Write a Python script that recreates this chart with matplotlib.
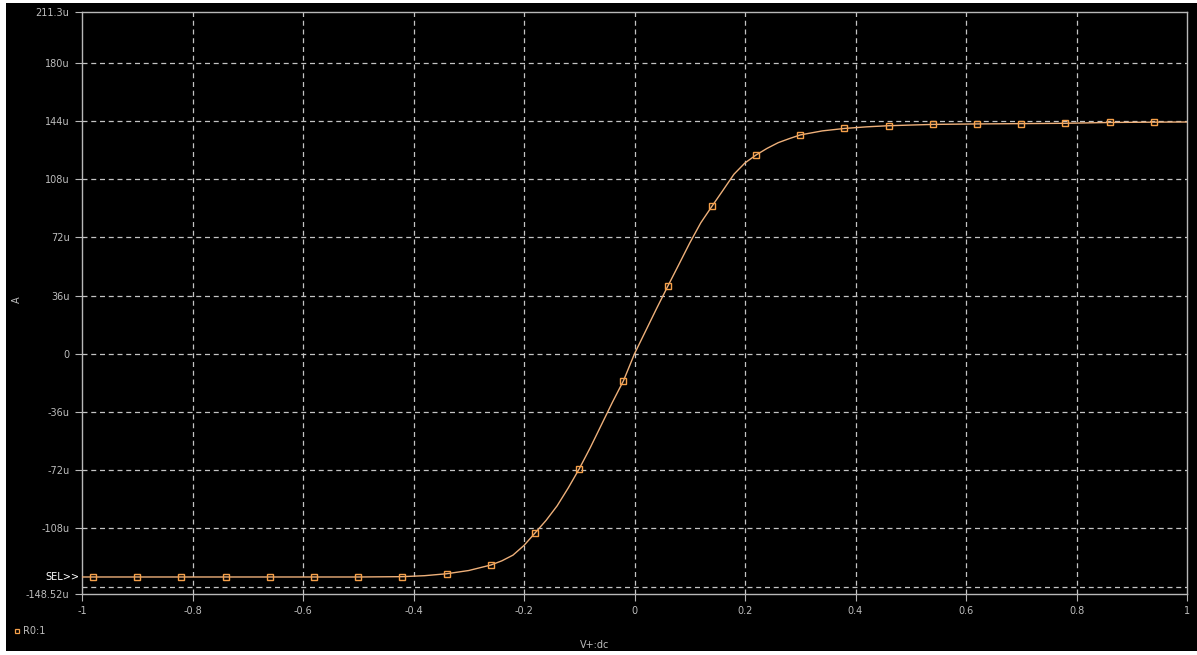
import numpy as np
import matplotlib.pyplot as plt
import matplotlib.transforms as mtransforms

# Sweep voltage (V) at the marker positions, and current (uA)
marker_v = [-0.98, -0.90, -0.82, -0.74, -0.66, -0.58, -0.50, -0.42, -0.34, -0.26,
            -0.18, -0.10, -0.02, 0.06, 0.14, 0.22, 0.30, 0.38, 0.46, 0.54,
            0.62, 0.70, 0.78, 0.86, 0.94]
marker_i = [-138.0, -138.0, -138.0, -138.0, -138.0, -138.0, -138.0, -137.8, -136.0, -130.6,
            -110.8, -71.1, -16.7, 41.6, 91.1, 122.9, 135.3, 139.3, 141.0, 141.8,
            142.1, 142.3, 142.5, 143.0, 143.2]

# extra readings along the trace between the markers
extra_v = [-1.0, -0.38, -0.30, -0.24, -0.22, -0.20, -0.16, -0.14, -0.12, -0.08,
           -0.06, -0.04, 0.0, 0.02, 0.04, 0.08, 0.10, 0.12, 0.16, 0.18,
           0.20, 0.24, 0.26, 0.28, 0.34, 0.42, 1.0]
extra_i = [-138.0, -137.2, -134.0, -128.0, -124.5, -118.5, -103.0, -94.0, -83.0, -58.0,
           -44.0, -30.0, 0.0, 14.0, 28.0, 55.0, 68.5, 81.0, 101.0, 111.0,
           118.0, 127.0, 130.5, 133.0, 137.8, 140.3, 143.3]

x_ticks = [-1, -0.8, -0.6, -0.4, -0.2, 0, 0.2, 0.4, 0.6, 0.8, 1]
x_labels = ['-1', '-0.8', '-0.6', '-0.4', '-0.2', '0', '0.2', '0.4', '0.6', '0.8', '1']
y_ticks = [211.3, 180, 144, 108, 72, 36, 0, -36, -72, -108, -148.52]
y_labels = ['211.3u', '180u', '144u', '108u', '72u', '36u', '0', '-36u', '-72u', '-108u', '-148.52u']
y_grid = [180, 144, 108, 72, 36, 0, -36, -72, -108, -144]

# merge readings for the trace
curve = sorted(zip(marker_v + extra_v, marker_i + extra_i))
curve_v = [p[0] for p in curve]
curve_i = [p[1] for p in curve]

txt = '#bdbdbd'
frame = '#b8b8b8'
grid = '#c4c4c4'
trace = '#eeb07a'
mark = '#f5a04a'

fig = plt.figure(figsize=(11.97, 6.55), dpi=100, facecolor='white')
# black panel (screenshot has a thin white border)
bg = fig.add_axes([6 / 1197, 4 / 655, 1 - 6 / 1197, 1 - 7 / 655])
bg.set_facecolor('black')
bg.set_xticks([])
bg.set_yticks([])
for s in bg.spines.values():
    s.set_visible(False)

ax = fig.add_axes([82 / 1197, 1 - 594 / 655, (1187 - 82) / 1197, (594 - 12) / 655])
ax.set_facecolor('black')
ax.set_xlim(-1, 1)
ax.set_ylim(-148.52, 211.3)

for y in y_grid:
    ax.axhline(y, color=grid, lw=0.9, ls=(0, (4, 3)), zorder=1)
for x in x_ticks[1:-1]:
    ax.axvline(x, color=grid, lw=0.9, ls=(0, (4, 3)), zorder=1)

ax.plot(curve_v, curve_i, color=trace, lw=1.0, zorder=3)
ax.plot(marker_v, marker_i, ls='none', marker='s', ms=4, mfc='none', mec=mark, mew=1.0, zorder=4)

ax.set_xticks(x_ticks)
ax.set_xticklabels(x_labels)
ax.set_yticks(y_ticks)
ax.set_yticklabels(y_labels)
ax.tick_params(colors=frame, labelcolor=txt, labelsize=7, length=5, width=0.8, pad=4)
for s in ax.spines.values():
    s.set_color(frame)
    s.set_linewidth(1.0)

ax.set_ylabel('A', color=txt, fontsize=7)
ax.yaxis.set_label_coords((22 - 82) / (1187 - 82), (594 - 300) / (594 - 12))
ax.set_xlabel('V+:dc', color=txt, fontsize=7)
ax.xaxis.set_label_coords((595 - 82) / (1187 - 82), -(640 - 594) / (594 - 12))

# SEL>> marker on the left axis
trans = mtransforms.blended_transform_factory(ax.transAxes, ax.transData)
ax.text(-0.002, -138.0, 'SEL>>', transform=trans, ha='right', va='center',
        color='white', fontsize=7, clip_on=False)

# legend entry at bottom left
fig.lines.append(plt.Line2D([17 / 1197], [1 - 631 / 655], transform=fig.transFigure,
                            ls='none', marker='s', ms=3.5, mfc='none', mec=mark, mew=0.9))
fig.text(23 / 1197, 1 - 631 / 655, 'R0:1', color=txt, fontsize=7, ha='left', va='center')

fig.savefig('out.png', dpi=100, facecolor=fig.get_facecolor())
